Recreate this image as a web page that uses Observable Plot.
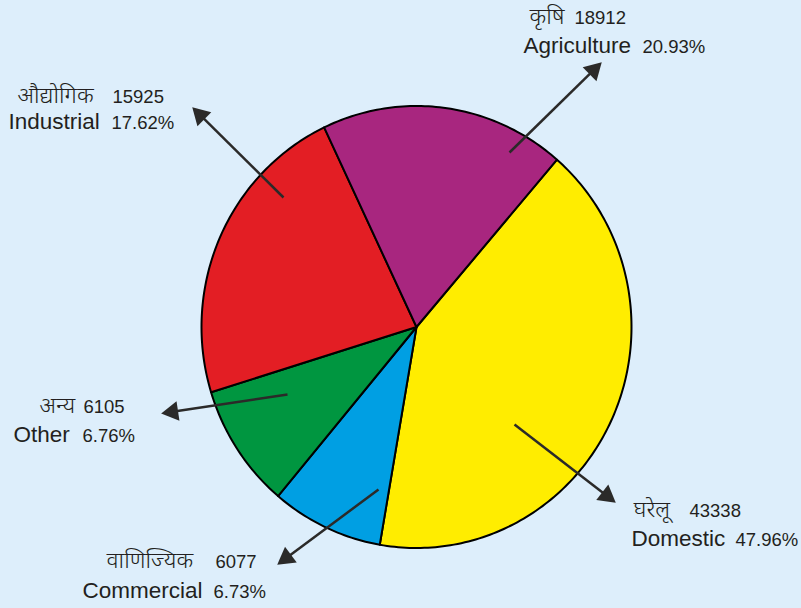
<!DOCTYPE html>
<html>
<head>
<meta charset="utf-8">
<script src="https://cdn.jsdelivr.net/npm/d3@7"></script>
<script src="https://cdn.jsdelivr.net/npm/@observablehq/plot@0.6"></script>
<style>
  html, body { margin: 0; padding: 0; background: #ddeefb; }
  #chart svg { display: block; }
</style>
</head>
<body>
<div id="chart"></div>
<script>
// ---- data ----
const categories = ["Domestic", "Commercial", "Other", "Industrial", "Agriculture"];
const nepaliNames = ["घरेलू", "वाणिज्यिक", "अन्य", "औद्योगिक", "कृषि"];
const counts = [43338, 6077, 6105, 15925, 18912];
const percents = [47.96, 6.73, 6.76, 17.62, 20.93];
// slice shares as drawn in the picture (percent of the circle)
const sliceShares = [41.4, 8.4, 9.1, 22.7, 18.4];
const sliceColors = ["#ffed00", "#009fe3", "#009640", "#e31e24", "#a8267f"];

// ---- layout (pixels) ----
const W = 801, H = 608;
const CX = 416, CY = 326.5, RX = 215, RY = 221, START = 40.8;
// arrow tail / tip in page pixels
const arrowTail = [[514, 424], [378, 489], [287, 394], [283, 197], [509, 152]];
const arrowTip  = [[615, 502], [277, 564], [161, 413], [192, 107], [601, 62]];
// label positions: [nepaliX, countX, line1Baseline, englishX, pctX, line2Baseline]
const labelPos = [
  [633, 689, 516, 631, 735, 545],
  [106, 215, 567, 82, 213, 597],
  [39, 83, 412, 13, 82, 441],
  [17, 112, 102, 8, 111, 128],
  [529, 574, 23, 523, 642, 52]
];

const toX = px => px - CX;
const toY = py => CY - py;

// slices
const slicePts = [];
let acc = START;
categories.forEach((c, i) => {
  const a0 = acc, a1 = acc + sliceShares[i] / 100 * 360;
  acc = a1;
  slicePts.push({cat: c, color: sliceColors[i], x: 0, y: 0});
  const n = Math.ceil(a1 - a0);
  for (let k = 0; k <= n; k++) {
    const t = (a0 + (a1 - a0) * k / n) * Math.PI / 180;
    slicePts.push({cat: c, color: sliceColors[i], x: RX * Math.sin(t), y: RY * Math.cos(t)});
  }
  slicePts.push({cat: c, color: sliceColors[i], x: 0, y: 0});
});

// arrows
const HEAD = 11;
const arrows = categories.map((c, i) => {
  const [tx, ty] = arrowTail[i], [hx, hy] = arrowTip[i];
  const dx = hx - tx, dy = hy - ty, L = Math.hypot(dx, dy);
  const ux = dx / L, uy = dy / L;
  return {
    x1: toX(tx), y1: toY(ty),
    x2: toX(hx - ux * HEAD), y2: toY(hy - uy * HEAD),
    hx: toX(hx - ux * HEAD), hy: toY(hy - uy * HEAD),
    rot: Math.atan2(dx, -dy) * 180 / Math.PI
  };
});

const labels = categories.map((c, i) => {
  const p = labelPos[i];
  return {
    nep: nepaliNames[i], cnt: String(counts[i]), eng: c, pct: percents[i].toFixed(2) + "%",
    nx: toX(p[0]), cx: toX(p[1]), y1: toY(p[2]), ex: toX(p[3]), px: toX(p[4]), y2: toY(p[5])
  };
});

const font = "'Liberation Sans', Arial, 'Noto Sans', sans-serif";
const ink = "#231f20";

const chart = Plot.plot({
  width: W, height: H,
  margin: 0,
  x: {domain: [-CX, W - CX], range: [0, W], axis: null},
  y: {domain: [CY - H, CY], range: [H, 0], axis: null},
  color: {type: "identity"},
  style: {background: "#ddeefb", fontFamily: font},
  marks: [
    Plot.line(slicePts, {x: "x", y: "y", z: "cat", fill: "color", stroke: "#000", strokeWidth: 2, strokeLinejoin: "round", curve: "linear"}),
    Plot.link(arrows, {x1: "x1", y1: "y1", x2: "x2", y2: "y2", stroke: "#2b2a29", strokeWidth: 2.5}),
    Plot.dot(arrows, {x: "hx", y: "hy", symbol: "triangle", r: 7.3, rotate: "rot", fill: "#2b2a29", stroke: null}),
    Plot.text(labels, {x: "nx", y: "y1", text: "nep", textAnchor: "start", lineAnchor: "bottom", fontSize: 23, fontWeight: 300, fill: ink}),
    Plot.text(labels, {x: "cx", y: "y1", text: "cnt", textAnchor: "start", lineAnchor: "bottom", fontSize: 18.5, fill: ink}),
    Plot.text(labels, {x: "ex", y: "y2", text: "eng", textAnchor: "start", lineAnchor: "bottom", fontSize: 22.5, fill: ink}),
    Plot.text(labels, {x: "px", y: "y2", text: "pct", textAnchor: "start", lineAnchor: "bottom", fontSize: 18.5, fill: ink})
  ]
});
document.getElementById("chart").appendChild(chart);
</script>
</body>
</html>
